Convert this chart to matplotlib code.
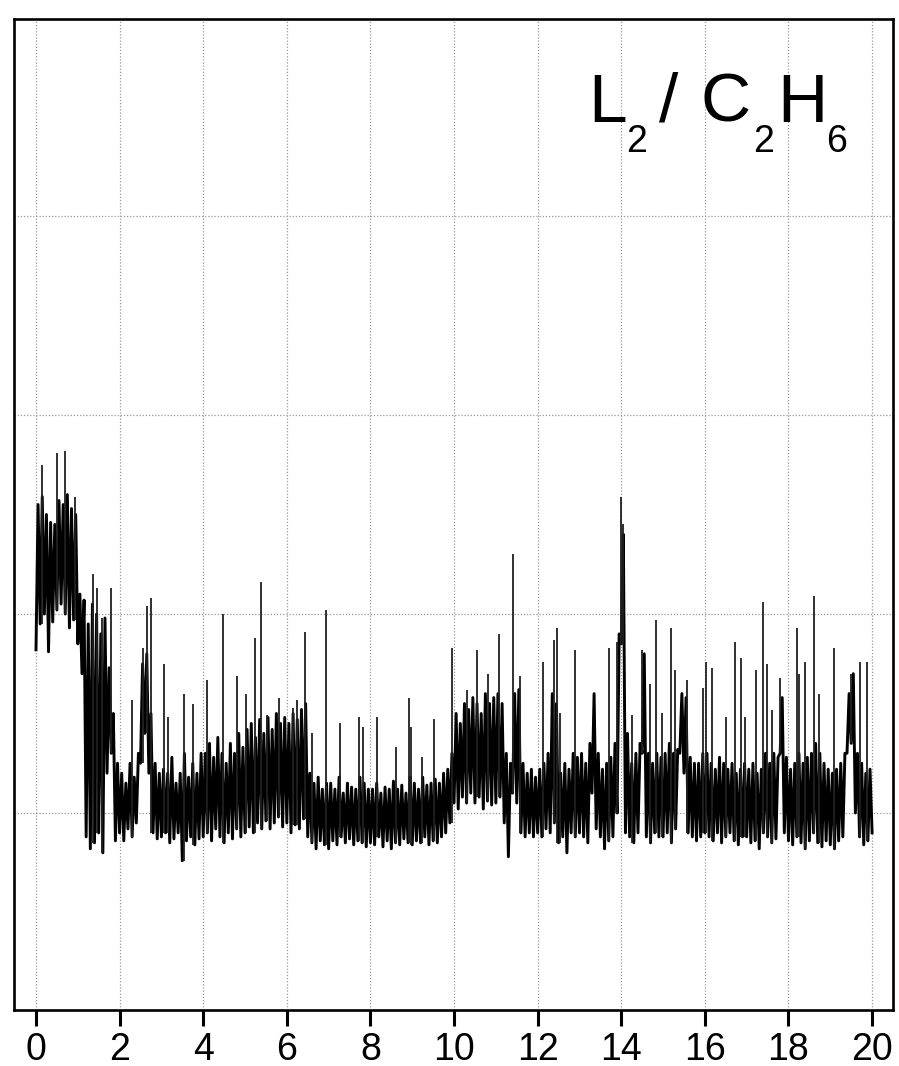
import numpy as np
import matplotlib
matplotlib.use("Agg")
import matplotlib.pyplot as plt

plt.rcParams['font.family'] = ['Liberation Sans', 'DejaVu Sans']

# segnale: per ogni passo di 0.1 il minimo (lo) e il massimo (hi)
# della banda di rumore; hi cade a meta' passo
passo = 0.1
lo = [1.82, 1.95, 2.00, 1.81, 1.96, 2.02, 2.05, 2.00, 1.93, 1.97,
      1.85, 1.70, 0.88, 0.82, 0.85, 0.90, 0.80, 1.20, 1.30, 0.86,
      0.90, 0.86, 0.92, 0.88, 0.95, 1.25, 1.40, 1.20, 0.90, 0.87,
      0.88, 0.90, 0.85, 0.87, 0.90, 0.76, 0.86, 0.88, 0.84, 0.87,
      0.88, 0.90, 0.86, 0.92, 0.88, 0.85, 0.90, 0.87, 0.92, 0.88,
      0.90, 0.93, 0.90, 0.95, 0.92, 0.96, 0.92, 0.95, 0.98, 0.93,
      0.95, 0.90, 0.94, 0.92, 0.97, 0.88, 0.85, 0.82, 0.86, 0.84,
      0.82, 0.86, 0.84, 0.88, 0.85, 0.87, 0.84, 0.86, 0.85, 0.83,
      0.85, 0.84, 0.88, 0.83, 0.86, 0.82, 0.85, 0.84, 0.87, 0.85,
      0.84, 0.86, 0.85, 0.88, 0.84, 0.86, 0.85, 0.88, 0.90, 0.95,
      1.05, 1.02, 1.08, 1.05, 1.10, 1.05, 1.08, 1.02, 1.06, 1.04,
      1.05, 1.08, 0.95, 0.78, 1.10, 1.05, 0.90, 0.88, 0.90, 0.88,
      0.90, 0.88, 0.92, 0.90, 0.95, 0.85, 0.88, 0.80, 0.90, 0.88,
      0.90, 0.88, 0.85, 1.10, 0.92, 0.88, 0.82, 0.86, 0.88, 1.00,
      1.85, 0.90, 0.88, 0.85, 0.90, 1.30, 0.88, 0.85, 0.90, 0.88,
      0.88, 0.90, 0.85, 0.92, 1.30, 1.20, 0.90, 0.88, 0.86, 0.88,
      0.90, 0.88, 0.86, 0.90, 0.85, 0.88, 0.90, 0.86, 0.84, 0.88,
      0.88, 0.85, 0.86, 0.82, 0.90, 0.88, 0.85, 0.87, 1.30, 0.90,
      0.86, 0.84, 0.88, 0.85, 0.82, 0.86, 0.90, 0.85, 0.83, 0.86,
      0.84, 0.82, 0.86, 0.88, 1.30, 1.35, 1.00, 0.88, 0.84, 0.86,
      0.90]
hi = [2.55, 2.59, 2.50, 2.46, 2.45, 2.57, 2.55, 2.60, 2.53, 2.50,
      2.10, 2.07, 1.95, 2.05, 2.00, 1.90, 1.98, 1.73, 1.50, 1.25,
      1.20, 1.15, 1.25, 1.18, 1.30, 1.75, 1.80, 1.50, 1.25, 1.20,
      1.22, 1.20, 1.28, 1.15, 1.20, 1.30, 1.18, 1.25, 1.20, 1.30,
      1.30, 1.35, 1.28, 1.38, 1.30, 1.25, 1.35, 1.30, 1.40, 1.33,
      1.42, 1.45, 1.38, 1.47, 1.40, 1.48, 1.42, 1.50, 1.45, 1.48,
      1.45, 1.50, 1.47, 1.52, 1.55, 1.20, 1.15, 1.18, 1.12, 1.15,
      1.15, 1.12, 1.18, 1.10, 1.15, 1.13, 1.12, 1.18, 1.15, 1.12,
      1.12, 1.15, 1.10, 1.13, 1.12, 1.16, 1.12, 1.14, 1.10, 1.18,
      1.15, 1.12, 1.18, 1.14, 1.15, 1.17, 1.15, 1.20, 1.22, 1.30,
      1.50, 1.45, 1.55, 1.52, 1.58, 1.55, 1.50, 1.60, 1.55, 1.58,
      1.60, 1.55, 1.30, 1.25, 1.60, 1.62, 1.25, 1.20, 1.22, 1.18,
      1.22, 1.25, 1.30, 1.60, 1.55, 1.20, 1.25, 1.22, 1.30, 1.28,
      1.30, 1.25, 1.35, 1.60, 1.30, 1.22, 1.25, 1.28, 1.35, 1.90,
      2.40, 1.40, 1.25, 1.30, 1.35, 1.80, 1.30, 1.25, 1.30, 1.28,
      1.30, 1.35, 1.30, 1.32, 1.60, 1.58, 1.28, 1.25, 1.25, 1.30,
      1.30, 1.25, 1.22, 1.28, 1.25, 1.22, 1.25, 1.20, 1.22, 1.25,
      1.22, 1.25, 1.20, 1.22, 1.30, 1.25, 1.30, 1.28, 1.58, 1.28,
      1.22, 1.25, 1.30, 1.25, 1.28, 1.30, 1.35, 1.30, 1.25, 1.22,
      1.20, 1.22, 1.25, 1.30, 1.60, 1.70, 1.30, 1.25, 1.20, 1.22]

# picchi isolati sopra la banda
picchi_t = [0.15, 0.50, 0.70, 0.93, 1.37, 1.46, 1.58, 1.79, 2.30, 2.55,
            2.65, 2.75, 3.07, 3.15, 3.55, 3.75, 4.09, 4.48, 4.82, 5.02,
            5.25, 5.39, 5.52, 5.81, 6.15, 6.25, 6.44, 6.60, 6.94, 7.27,
            7.73, 7.82, 8.16, 8.61, 8.92, 8.97, 9.23, 9.52, 9.95, 10.30,
            10.55, 10.82, 11.08, 11.40, 11.58, 12.13, 12.39, 12.46, 12.53, 12.90,
            13.70, 13.90, 14.00, 14.03, 14.26, 14.50, 14.69, 14.83, 14.98, 15.19,
            15.29, 15.57, 15.96, 16.03, 16.17, 16.50, 16.72, 16.87, 16.96, 17.22,
            17.39, 17.49, 17.60, 17.80, 18.20, 18.25, 18.40, 18.60, 18.73, 19.10,
            19.50, 19.70, 19.88]
picchi_y = [2.75, 2.81, 2.82, 2.59, 2.20, 2.13, 1.98, 2.13, 1.57, 1.83,
            2.04, 2.08, 1.75, 1.48, 1.60, 1.55, 1.67, 2.00, 1.69, 1.60,
            1.88, 2.16, 1.49, 1.58, 1.53, 1.57, 1.91, 1.40, 2.02, 1.45,
            1.48, 1.43, 1.48, 1.33, 1.58, 1.43, 1.28, 1.47, 1.83, 1.62,
            1.82, 1.70, 1.90, 2.30, 1.69, 1.76, 1.87, 1.93, 1.50, 1.82,
            1.83, 1.86, 2.59, 2.45, 1.49, 1.82, 1.65, 1.97, 1.50, 1.93,
            1.72, 1.67, 1.63, 1.76, 1.73, 1.48, 1.86, 1.78, 1.48, 1.72,
            2.06, 1.75, 1.52, 1.68, 1.93, 1.70, 1.76, 2.09, 1.60, 1.83,
            1.70, 1.76, 1.76]

x_ticks = [0, 2, 4, 6, 8, 10, 12, 14, 16, 18, 20]
y_grid = [1, 2, 3, 4]

# traccia: minimo e massimo alternati
tempo, segnale = [], []
for i in range(len(lo)):
    tempo.append(i * passo)
    segnale.append(lo[i])
    if i < len(hi):
        tempo.append(i * passo + passo / 2)
        segnale.append(hi[i])

fig = plt.figure(figsize=(8.99, 10.66), dpi=100)
ax = fig.add_axes([14/899, 56/1066, 879/899, 991/1066])

ax.plot(tempo, segnale, color='black', lw=2.1)
base = [lo[int(round(t / passo))] for t in picchi_t]
ax.vlines(picchi_t, base, picchi_y, color='#202020', lw=1.3)

ax.set_xlim(-0.526, 20.5)
ax.set_ylim(0.01, 4.99)
ax.set_xticks(x_ticks)
ax.set_yticks(y_grid)
ax.set_yticklabels([])
ax.tick_params(axis='y', length=0)
ax.tick_params(axis='x', direction='out', length=11.5, width=2.2,
               labelsize=27, pad=4)
ax.grid(True, color='#9a9a9a', linestyle=(0, (1, 1.5)), linewidth=0.9)
for s in ax.spines.values():
    s.set_linewidth(1.9)

# etichetta L2 / C2H6 composta a mano (pedici grandi e bassi)
def t(px, py, s, size):
    fig.text(px/899, 1 - py/1066, s, fontsize=size, ha='left', va='baseline')

t(588, 122, 'L', 50)
t(626, 152, '2', 27)
t(659, 122, '/', 50)
t(701, 122, 'C', 50)
t(753, 152, '2', 27)
t(777, 122, 'H', 50)
t(826, 152, '6', 27)

fig.savefig('out.png', dpi=100)
